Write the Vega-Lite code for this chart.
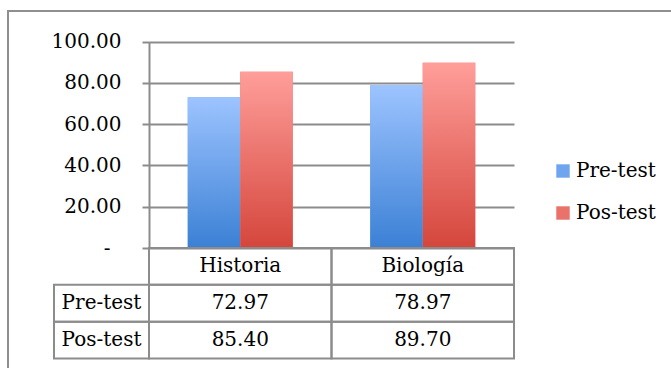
{
  "$schema": "https://vega.github.io/schema/vega-lite/v6.json",
  "width": 668,
  "height": 362,
  "autosize": {"type": "none"},
  "padding": {"left": 8, "top": 11, "right": -5, "bottom": -5},
  "background": "white",
  "config": {
    "view": {"stroke": "#8f8f8f", "strokeWidth": 2},
    "font": "DejaVu Serif",
    "text": {"font": "DejaVu Serif", "fontSize": 20, "color": "#000000"}
  },
  "data": {
    "values": [
      {"cat": "Historia", "series": "Pre-test", "value": 72.97},
      {"cat": "Historia", "series": "Pos-test", "value": 85.40},
      {"cat": "Biología", "series": "Pre-test", "value": 78.97},
      {"cat": "Biología", "series": "Pos-test", "value": 89.70}
    ]
  },
  "layer": [
    {
      "encoding": {
        "x": {"field": "cat", "type": "nominal", "scale": {"domain": ["Historia", "Biología"], "range": [141, 506], "paddingInner": 0, "paddingOuter": 0}, "axis": null},
        "xOffset": {"field": "series", "type": "nominal", "scale": {"domain": ["Pre-test", "Pos-test"], "paddingInner": 0, "paddingOuter": 0.738}},
        "y": {
          "field": "value", "type": "quantitative",
          "scale": {"domain": [0, 100], "range": [237, 30.5], "nice": false},
          "axis": {
            "title": null,
            "values": [0, 20, 40, 60, 80, 100],
            "labelExpr": "datum.value === 0 ? '-' : format(datum.value, '.2f')",
            "offset": -141,
            "grid": true, "gridColor": "#8c8c8c", "gridWidth": 2,
            "domainColor": "#8c8c8c", "domainWidth": 2,
            "tickColor": "#8c8c8c", "tickWidth": 2, "tickSize": 7,
            "labelPadding": {"condition": {"test": "datum.value === 0", "value": 32}, "value": 21},
            "labelFont": "DejaVu Serif", "labelFontSize": 20, "labelColor": "#000000"
          }
        }
      },
      "layer": [
        {
          "mark": {"type": "bar"},
          "encoding": {
            "color": {
              "field": "series", "type": "nominal",
              "scale": {"domain": ["Pre-test", "Pos-test"], "range": ["#6fa5ee", "#e9726a"]},
              "legend": {
                "title": null, "orient": "none", "legendX": 545, "legendY": 150,
                "symbolType": "square", "symbolSize": 180, "symbolStrokeWidth": 0,
                "labelFont": "DejaVu Serif", "labelFontSize": 20, "labelColor": "#000000",
                "labelOffset": 3, "rowPadding": 22, "padding": 0
              }
            }
          }
        },
        {
          "transform": [{"filter": "datum.series === 'Pre-test'"}],
          "mark": {"type": "bar", "color": {"gradient": "linear", "x1": 0, "y1": 0, "x2": 0, "y2": 1, "stops": [{"offset": 0, "color": "#9dc4ff"}, {"offset": 1, "color": "#3b80d5"}]}}
        },
        {
          "transform": [{"filter": "datum.series === 'Pos-test'"}],
          "mark": {"type": "bar", "color": {"gradient": "linear", "x1": 0, "y1": 0, "x2": 0, "y2": 1, "stops": [{"offset": 0, "color": "#ff9e9a"}, {"offset": 1, "color": "#d4463c"}]}}
        }
      ]
    },
    {
      "layer": [
        {
          "mark": {"type": "rect", "filled": false, "stroke": "#8c8c8c", "strokeWidth": 2},
          "encoding": {
            "x": {"field": "cat", "type": "nominal", "scale": {"domain": ["Historia", "Biología"], "range": [141, 506], "paddingInner": 0, "paddingOuter": 0}, "axis": null},
            "y": {"field": "series", "type": "nominal", "scale": {"domain": ["h", "Pre-test", "Pos-test"], "range": [237, 347.5], "paddingInner": 0, "paddingOuter": 0}, "axis": null}
          }
        },
        {
          "transform": [{"filter": "datum.series === 'Pre-test'"}],
          "mark": {"type": "rect", "filled": false, "stroke": "#8c8c8c", "strokeWidth": 2},
          "encoding": {
            "x": {"field": "cat", "type": "nominal", "scale": {"domain": ["Historia", "Biología"], "range": [141, 506], "paddingInner": 0, "paddingOuter": 0}, "axis": null},
            "y": {"datum": "h", "type": "nominal", "scale": {"domain": ["h", "Pre-test", "Pos-test"], "range": [237, 347.5], "paddingInner": 0, "paddingOuter": 0}, "axis": null}
          }
        },
        {
          "mark": {"type": "text", "font": "DejaVu Serif", "fontSize": 20, "color": "#000000"},
          "encoding": {
            "x": {"field": "cat", "type": "nominal", "scale": {"domain": ["Historia", "Biología"], "range": [141, 506], "paddingInner": 0, "paddingOuter": 0}, "axis": null},
            "y": {"field": "series", "type": "nominal", "scale": {"domain": ["h", "Pre-test", "Pos-test"], "range": [237, 347.5], "paddingInner": 0, "paddingOuter": 0}, "axis": null},
            "text": {"field": "value", "type": "quantitative", "format": ".2f"}
          }
        },
        {
          "transform": [{"filter": "datum.series === 'Pre-test'"}],
          "mark": {"type": "text", "font": "DejaVu Serif", "fontSize": 20, "color": "#000000"},
          "encoding": {
            "x": {"field": "cat", "type": "nominal", "scale": {"domain": ["Historia", "Biología"], "range": [141, 506], "paddingInner": 0, "paddingOuter": 0}, "axis": null},
            "y": {"datum": "h", "type": "nominal", "scale": {"domain": ["h", "Pre-test", "Pos-test"], "range": [237, 347.5], "paddingInner": 0, "paddingOuter": 0}, "axis": null},
            "text": {"field": "cat", "type": "nominal"}
          }
        }
      ]
    },
    {
      "transform": [{"filter": "datum.cat === 'Historia'"}],
      "encoding": {
        "x": {"datum": "lbl", "type": "nominal", "scale": {"domain": ["lbl"], "range": [46, 141], "paddingInner": 0, "paddingOuter": 0}, "axis": null},
        "y": {"field": "series", "type": "nominal", "scale": {"domain": ["h", "Pre-test", "Pos-test"], "range": [237, 347.5], "paddingInner": 0, "paddingOuter": 0}, "axis": null}
      },
      "layer": [
        {"mark": {"type": "rect", "filled": false, "stroke": "#8c8c8c", "strokeWidth": 2}},
        {
          "mark": {"type": "text", "font": "DejaVu Serif", "fontSize": 20, "color": "#000000"},
          "encoding": {"text": {"field": "series", "type": "nominal"}}
        }
      ]
    }
  ],
  "resolve": {"scale": {"x": "independent", "y": "independent"}}
}
